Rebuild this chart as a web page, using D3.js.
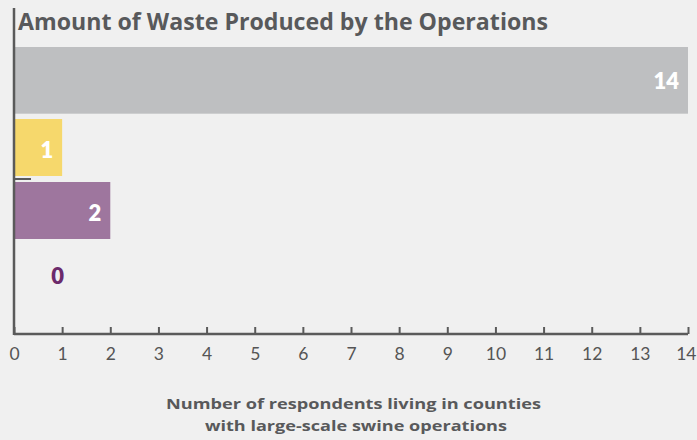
<!DOCTYPE html>
<html><head><meta charset="utf-8">
<script src="https://cdn.jsdelivr.net/npm/d3@7"></script>
<style>
html,body{margin:0;padding:0;background:#f0f0f0;}
svg{display:block;font-family:"Open Sans","Lato",sans-serif;}
</style></head>
<body><svg id="c" width="697" height="440"></svg>
<script>
const categories = ["A", "B", "C", "D"];
const values = [14, 1, 2, 0];
const colors = ["#bebfc1", "#f6d86c", "#9e769e", "#9e769e"];
const xTicks = [0,1,2,3,4,5,6,7,8,9,10,11,12,13,14];
const title = "Amount of Waste Produced by the Operations";
const axisTitle = ["Number of respondents living in counties", "with large-scale swine operations"];

const svg = d3.select("#c");
const x = d3.scaleLinear().domain([0, 14]).range([14, 688]);
const y = d3.scaleBand().domain(categories).range([56, 302]).paddingInner(6/63).paddingOuter(0);

// bars
svg.selectAll("rect.bar").data(values).enter().append("rect")
  .attr("x", x(0))
  .attr("y", (d,i) => i === 0 ? y(categories[i]) - 9 : y(categories[i]))
  .attr("width", d => x(d) - x(0))
  .attr("height", (d,i) => i === 0 ? y.bandwidth() + 9.7 : y.bandwidth())
  .attr("fill", (d,i) => colors[i]);

// labels
svg.selectAll("text.lbl").data(values).enter().append("text")
  .attr("x", d => d === 0 ? x(0) + 50 : x(d) - 9)
  .attr("y", (d,i) => i === 0 ? y(categories[i]) + 25 : y(categories[i]) + y.bandwidth()/2 + 3)
  .attr("dy", "0.36em")
  .attr("text-anchor", "end")
  .attr("font-weight", 800)
  .attr("font-size", 22)
  .attr("font-family", "Lato, sans-serif")
  .attr("fill", d => d === 0 ? "#6b2a6b" : "#ffffff")
  .text(d => d);

// x axis
const xAxis = svg.append("g").attr("transform", "translate(0,334)")
  .call(d3.axisBottom(x).tickValues(xTicks).tickSize(-7).tickPadding(14).tickFormat(d3.format("d")));
xAxis.select(".domain").attr("stroke", "#5a5a5a").attr("stroke-width", 2.5).attr("d", `M${x(0)},0H${x(14)}`);
xAxis.selectAll(".tick line").attr("stroke", "#5a5a5a").attr("stroke-width", 2);
xAxis.selectAll(".tick text").attr("fill", "#555").attr("font-size", 17.5).attr("font-weight", 400)
  .attr("font-family", "Lato, sans-serif")
  .attr("text-anchor", (d,i,n) => i === n.length - 1 ? "end" : "middle")
  .attr("dx", (d,i,n) => i === n.length - 1 ? 8 : 0);

// y axis line
svg.append("line").attr("x1", x(0)).attr("x2", x(0)).attr("y1", 8).attr("y2", 335)
  .attr("stroke", "#5a5a5a").attr("stroke-width", 2.5);
// small y tick between bands
svg.append("line").attr("x1", x(0)).attr("x2", x(0) + 17)
  .attr("y1", y(categories[2]) - 3).attr("y2", y(categories[2]) - 3)
  .attr("stroke", "#5a5a5a").attr("stroke-width", 2);

// title
svg.append("text").attr("x", 18).attr("y", 30)
  .attr("font-size", 23).attr("font-weight", 700).attr("fill", "#58595b")
  .attr("textLength", 530).attr("lengthAdjust", "spacingAndGlyphs")
  .text(title);

// axis title
svg.append("text").attr("font-size", 15).attr("font-weight", 700).attr("fill", "#58595b")
  .attr("x", 166).attr("y", 409).attr("textLength", 375).attr("lengthAdjust", "spacingAndGlyphs").text(axisTitle[0]);
svg.append("text").attr("font-size", 15).attr("font-weight", 700).attr("fill", "#58595b")
  .attr("x", 205).attr("y", 431).attr("textLength", 302).attr("lengthAdjust", "spacingAndGlyphs").text(axisTitle[1]);
</script>
</body></html>
